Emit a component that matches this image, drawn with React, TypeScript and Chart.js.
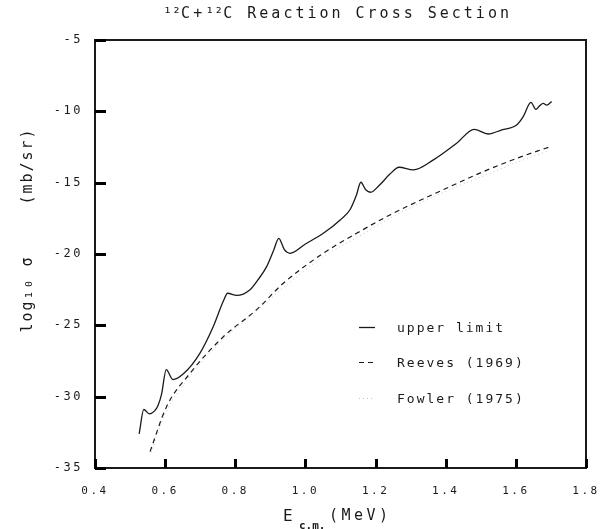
import { useEffect, useRef } from "react";
import { Chart, registerables } from "chart.js";

Chart.register(...registerables);

// ---------- data ----------
const titleParts = ["¹²", "C+", "¹²", "C Reaction Cross Section"];
const xTickValues = [0.4, 0.6, 0.8, 1.0, 1.2, 1.4, 1.6, 1.8];
const yTickValues = [-35, -30, -25, -20, -15, -10, -5];

const upperLimitE = [
  0.526, 0.539, 0.555, 0.57, 0.58, 0.59, 0.603, 0.622, 0.652, 0.699, 0.737, 0.766, 0.778, 0.804,
  0.842, 0.865, 0.889, 0.91, 0.924, 0.94, 0.956, 1.0, 1.051, 1.1, 1.127, 1.145, 1.158, 1.172,
  1.186, 1.21, 1.241, 1.267, 1.308, 1.365, 1.431, 1.481, 1.521, 1.56, 1.602, 1.621, 1.643,
  1.657, 1.668, 1.678, 1.688, 1.702,
];
const upperLimitLog = [
  -32.6, -30.9, -31.2, -31.0, -30.6, -29.8, -28.1, -28.8, -28.4, -26.96, -25.1, -23.3, -22.75, -22.9,
  -22.5, -21.8, -20.9, -19.7, -18.9, -19.7, -19.95, -19.3, -18.55, -17.6, -16.9, -15.9, -14.97, -15.5,
  -15.67, -15.2, -14.4, -13.92, -14.1, -13.4, -12.24, -11.26, -11.59, -11.3, -10.96, -10.37, -9.37,
  -9.86, -9.6, -9.44, -9.56, -9.32,
];

const reevesE = [0.557, 0.604, 0.671, 0.766, 0.861, 0.937, 1.051, 1.146, 1.241, 1.412, 1.507, 1.602, 1.693];
const reevesLog = [-33.85, -30.7, -28.36, -25.8, -23.9, -22.05, -19.95, -18.55, -17.26, -15.28, -14.23, -13.3, -12.52];

const fowlerE = [0.56, 0.6, 0.67, 0.77, 0.86, 0.94, 1.05, 1.15, 1.24, 1.41, 1.51, 1.6, 1.69];
const fowlerLog = [-33.9, -31.2, -28.6, -25.9, -24.0, -22.3, -20.2, -18.8, -17.5, -15.5, -14.5, -13.6, -12.8];

const seriesLabels = ["upper limit", "Reeves (1969)", "Fowler (1975)"];

// ---------- helpers ----------
const FONT = '"DejaVu Sans Mono", "Liberation Mono", monospace';
const INK = "#1a1a1a";

const zip = (xs: number[], ys: number[]) => xs.map((x, i) => ({ x, y: ys[i] }));

const decorPlugin = {
  id: "decor",
  beforeDraw(chart: any) {
    chart.ctx.letterSpacing = "2.5px";
  },
  afterDraw(chart: any) {
    const { ctx, chartArea: a } = chart;
    const xs = chart.scales["x"];
    const ys = chart.scales["y"];
    ctx.save();
    ctx.fillStyle = INK;
    const L = Math.round(a.left);
    const R = Math.round(a.right);
    const T = Math.round(a.top);
    const B = Math.round(a.bottom);
    // frame as thin filled rectangles
    ctx.fillRect(L - 1, T - 1, R - L + 2, 2);
    ctx.fillRect(L - 1, B - 1, R - L + 2, 2);
    ctx.fillRect(L - 1, T - 1, 2, B - T + 2);
    ctx.fillRect(R - 1, T - 1, 2, B - T + 2);
    // inward ticks
    ctx.fillStyle = "#000000";
    for (let i = 0; i < xTickValues.length; i++) {
      const px = Math.round(xs.getPixelForValue(xTickValues[i]));
      ctx.fillRect(px - 1, B - 9, 3, 9);
    }
    for (let i = 0; i < yTickValues.length; i++) {
      const py = Math.round(ys.getPixelForValue(yTickValues[i]));
      ctx.fillRect(L, py - 1, 11, 3);
    }
    ctx.fillStyle = INK;

    ctx.textBaseline = "middle";
    ctx.textAlign = "left";

    // title, drawn in pieces so superscripts stay compact
    ctx.font = `15px ${FONT}`;
    const spacings = ["0px", "3px", "0px", "3px"];
    const widths = titleParts.map((p, i) => {
      ctx.letterSpacing = spacings[i];
      return ctx.measureText(p).width;
    });
    const total = widths.reduce((s, w) => s + w, 0);
    let tx = (a.left + a.right) / 2 - total / 2 - 3;
    titleParts.forEach((p, i) => {
      ctx.letterSpacing = spacings[i];
      ctx.fillText(p, tx, 14);
      tx += widths[i];
    });

    // x title
    ctx.letterSpacing = "0px";
    ctx.font = `16px ${FONT}`;
    ctx.fillText("E", 283, 517);
    ctx.font = `bold 11px ${FONT}`;
    ctx.fillText("c.m.", 299, 526);
    ctx.letterSpacing = "3.5px";
    ctx.font = `15px ${FONT}`;
    ctx.fillText("(MeV)", 329, 516);

    // y title (rotated)
    ctx.save();
    ctx.translate(28, 0);
    ctx.rotate(-Math.PI / 2);
    ctx.textAlign = "center";
    ctx.letterSpacing = "2px";
    ctx.font = `15px ${FONT}`;
    ctx.fillText("log₁₀ σ", -294, 0);
    ctx.fillText("(mb/sr)", -166, 0);
    ctx.restore();

    // legend
    const legendY = [327, 362, 398];
    chart.data.datasets.forEach((ds: any, i: number) => {
      const y = legendY[i] + 0.5;
      ctx.save();
      ctx.strokeStyle = ds.borderColor;
      ctx.lineWidth = ds.borderWidth;
      ctx.setLineDash(ds.borderDash || []);
      ctx.beginPath();
      ctx.moveTo(359, y);
      ctx.lineTo(375, y);
      ctx.stroke();
      ctx.restore();
      ctx.letterSpacing = "2px";
      ctx.font = `13px ${FONT}`;
      ctx.textAlign = "left";
      ctx.fillStyle = INK;
      ctx.fillText(ds.label, 397, y + 1);
    });

    ctx.restore();
  },
};

export default function App() {
  const canvasRef = useRef<HTMLCanvasElement | null>(null);

  useEffect(() => {
    if (!canvasRef.current) return;
    const chart = new Chart(canvasRef.current, {
      type: "line",
      data: {
        datasets: [
          {
            label: seriesLabels[0],
            data: zip(upperLimitE, upperLimitLog),
            borderColor: INK,
            borderWidth: 1.3,
            pointRadius: 0,
            cubicInterpolationMode: "monotone",
            fill: false,
          },
          {
            label: seriesLabels[1],
            data: zip(reevesE, reevesLog),
            borderColor: INK,
            borderWidth: 1.2,
            borderDash: [5, 4],
            pointRadius: 0,
            cubicInterpolationMode: "monotone",
            fill: false,
          },
          {
            label: seriesLabels[2],
            data: zip(fowlerE, fowlerLog),
            borderColor: "#c4c4c4",
            borderWidth: 1,
            borderDash: [1, 3],
            pointRadius: 0,
            cubicInterpolationMode: "monotone",
            fill: false,
          },
        ],
      },
      options: {
        animation: false,
        responsive: false,
        layout: { padding: { left: 0, top: 40, right: 14, bottom: 0 } },
        plugins: {
          legend: { display: false },
          title: { display: false },
          tooltip: { enabled: false },
        },
        scales: {
          x: {
            type: "linear",
            min: 0.4,
            max: 1.8,
            afterBuildTicks: (scale: any) => {
              scale.ticks = xTickValues.map((v) => ({ value: v }));
            },
            afterFit: (scale: any) => {
              scale.height = 61;
              scale.paddingLeft = 0;
              scale.paddingRight = 0;
            },
            grid: { display: false, drawTicks: false },
            border: { display: false },
            ticks: {
              maxRotation: 0,
              autoSkip: false,
              padding: 17,
              color: INK,
              font: { family: FONT, size: 11 },
              callback: (v: any) => Number(v).toFixed(1),
            },
          },
          y: {
            type: "linear",
            min: -35,
            max: -5,
            afterBuildTicks: (scale: any) => {
              scale.ticks = yTickValues.map((v) => ({ value: v }));
            },
            afterFit: (scale: any) => {
              scale.width = 95;
              scale.paddingTop = 0;
              scale.paddingBottom = 0;
            },
            grid: { display: false, drawTicks: false },
            border: { display: false },
            ticks: {
              autoSkip: false,
              padding: 12,
              color: INK,
              font: { family: FONT, size: 12 },
              callback: (v: any) => String(v),
            },
          },
        },
      },
      plugins: [decorPlugin],
    });
    return () => chart.destroy();
  }, []);

  return (
    <div style={{ position: "fixed", left: 0, top: 0, width: 600, height: 529, background: "#fff" }}>
      <canvas ref={canvasRef} width={600} height={529} style={{ display: "block" }} />
    </div>
  );
}
